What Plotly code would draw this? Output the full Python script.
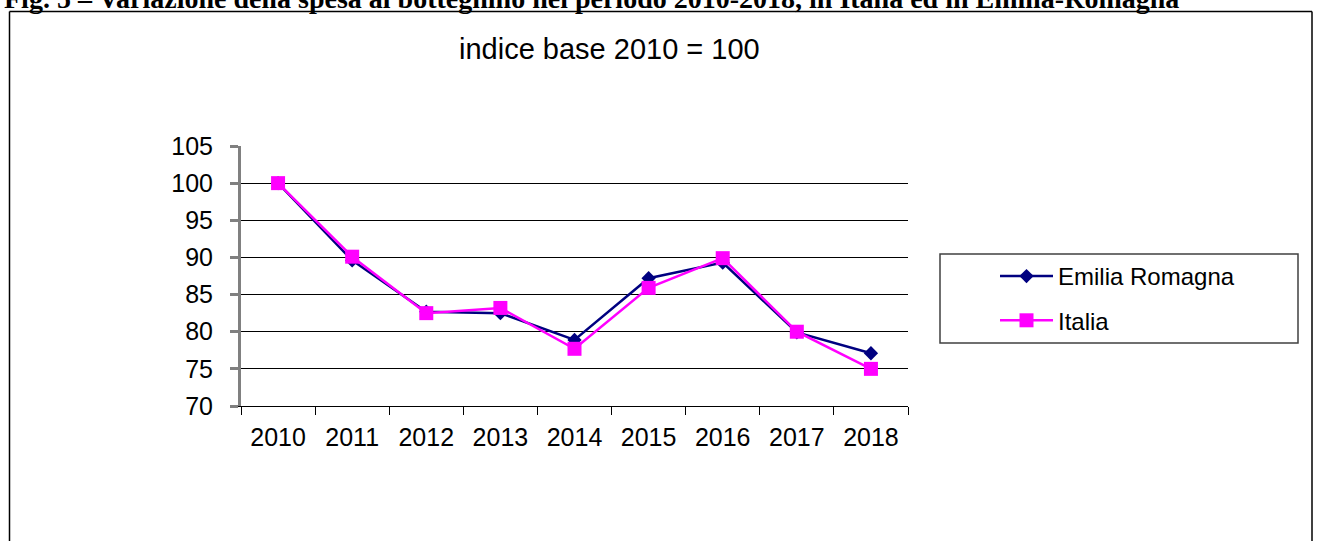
import plotly.graph_objects as go

anni = ['2010', '2011', '2012', '2013', '2014', '2015', '2016', '2017', '2018']
emilia_romagna = [100, 89.6, 82.7, 82.5, 78.9, 87.2, 89.3, 79.9, 77.1]
italia = [100, 90.1, 82.5, 83.2, 77.7, 85.9, 89.9, 80.0, 75.0]

fig = go.Figure()
fig.add_trace(go.Scatter(
    x=anni, y=emilia_romagna, name='Emilia Romagna',
    mode='lines+markers', legendgroup='er',
    line=dict(color='#000080', width=2.5),
    marker=dict(symbol='diamond', size=11, color='#000080')
))
fig.add_trace(go.Scatter(
    x=anni, y=italia, name='Italia',
    mode='lines+markers', legendgroup='it',
    line=dict(color='#FF00FF', width=2.5),
    marker=dict(symbol='square', size=14, color='#FF00FF')
))

# pixel -> paper helpers (plot area 241..908 x, 146..406 y)
def px(x):
    return (x - 241) / 667

def py(y):
    return (406 - y) / 260

fig.update_layout(
    width=1317, height=541,
    margin=dict(l=241, r=409, t=146, b=135),
    paper_bgcolor='white', plot_bgcolor='white',
    font=dict(family='Arial, Liberation Sans', size=25, color='black'),
    xaxis=dict(
        type='category', tickson='boundaries', range=[-0.5, 8.5],
        showgrid=False, zeroline=False,
        showline=True, linecolor='black', linewidth=1,
        ticks='outside', ticklen=8, tickcolor='black', tickwidth=1,
        ticklabelstandoff=9,
    ),
    yaxis=dict(
        range=[70, 105], dtick=5,
        showgrid=True, gridcolor='black', gridwidth=1,
        zeroline=False,
        showline=True, linecolor='#808080', linewidth=3,
        ticks='outside', ticklen=8, tickcolor='#808080', tickwidth=3,
        ticklabelstandoff=12,
    ),
    showlegend=True,
    legend=dict(
        x=px(995), y=py(254), xanchor='left', yanchor='top',
        font=dict(size=24), borderwidth=0, bgcolor='rgba(0,0,0,0)',
        traceorder='grouped', tracegroupgap=10, itemwidth=53,
    ),
    shapes=[
        # cornice esterna
        dict(type='line', xref='paper', yref='paper', x0=px(9.5), x1=px(9.5),
             y0=py(11.5), y1=py(600), line=dict(color='black', width=1.5)),
        dict(type='line', xref='paper', yref='paper', x0=px(1312), x1=px(1312),
             y0=py(11.5), y1=py(600), line=dict(color='black', width=1.5)),
        dict(type='line', xref='paper', yref='paper', x0=px(9.5), x1=px(1312),
             y0=py(11.5), y1=py(11.5), line=dict(color='black', width=1.5)),
        # riquadro legenda
        dict(type='rect', xref='paper', yref='paper', x0=px(940), x1=px(1298),
             y0=py(343), y1=py(254), line=dict(color='#404040', width=1.5)),
    ],
    annotations=[
        dict(text='indice base 2010 = 100', xref='paper', yref='paper',
             x=px(609), y=py(49), xanchor='center', yanchor='middle',
             showarrow=False, font=dict(size=29)),
        dict(text='<b>Fig. 5 \u2013 Variazione della spesa al botteghino nel periodo 2010-2018, in Italia ed in Emilia-Romagna</b>',
             xref='paper', yref='paper', x=px(2), y=py(-1.5),
             xanchor='left', yanchor='middle', showarrow=False,
             font=dict(family='Liberation Serif, Times New Roman, serif', size=28)),
    ],
)

fig.write_html("out.html", config={'displayModeBar': False},
               post_script="document.body.style.margin='0';")
